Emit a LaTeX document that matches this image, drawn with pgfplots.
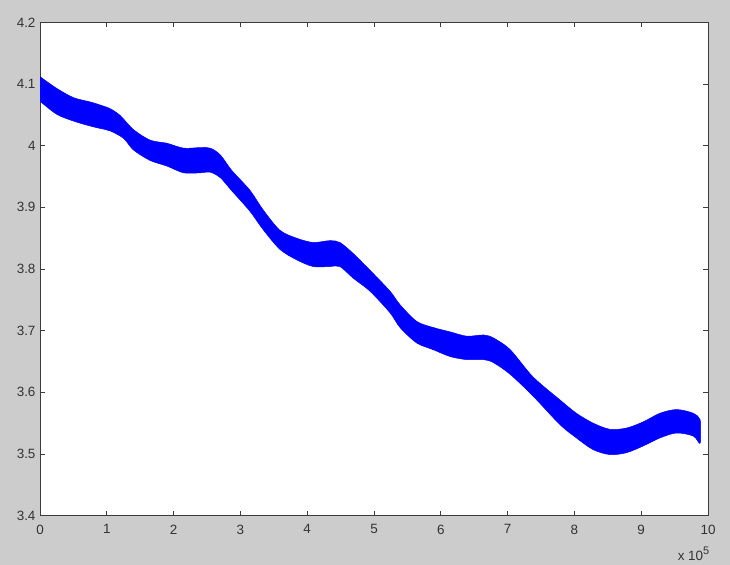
\documentclass[border=0pt]{standalone}
\usepackage{pgfplots}
\pgfplotsset{compat=1.18}
\usepackage{fontspec}
\setmainfont{Liberation Sans}
\definecolor{figbg}{RGB}{204,204,204}
\definecolor{axcol}{RGB}{60,60,60}
\begin{document}
\begin{tikzpicture}
\fill[figbg] (0,0) rectangle (730bp,565bp);
\begin{axis}[
  at={(40bp,49.4bp)}, anchor=south west,
  scale only axis, width=668bp, height=493.2bp,
  xmin=0, xmax=10, ymin=3.4, ymax=4.2,
  xtick={0,1,2,3,4,5,6,7,8,9,10},
  ytick={3.4,3.5,3.6,3.7,3.8,3.9,4.0,4.1,4.2},
  yticklabels={3.4,3.5,3.6,3.7,3.8,3.9,4,4.1,4.2},
  xticklabels={0,1,2,3,4,5,6,7,8,9,10},
  scaled ticks=false,
  tick align=inside, major tick length=5bp,
  axis background/.style={fill=white},
  axis line style={axcol, line width=0.8pt},
  every tick/.style={axcol, line width=0.8pt},
  tick label style={font=\fontsize{13.5}{15}\selectfont, text=black!80},
  xticklabel style={yshift=-5.5bp},
  yticklabel style={xshift=-1bp},
  /pgf/number format/assume math mode=true,
]
\addplot[fill=blue, draw=blue, line width=0.5pt, smooth] coordinates {
(-0.10,4.120) (0.00,4.112) (0.25,4.093) (0.50,4.078) (0.75,4.071) (0.90,4.066) (1.05,4.060)
(1.20,4.049) (1.40,4.026) (1.65,4.009) (1.90,4.004) (2.15,3.996) (2.40,3.997)
(2.55,3.996) (2.70,3.985) (2.87,3.960) (3.14,3.928) (3.34,3.896) (3.59,3.863)
(3.84,3.850) (4.09,3.843) (4.34,3.846) (4.49,3.843) (4.69,3.825) (4.94,3.798)
(5.24,3.764) (5.39,3.742) (5.64,3.715) (5.89,3.705) (6.14,3.698) (6.39,3.691)
(6.64,3.693) (6.79,3.688) (7.04,3.669) (7.38,3.625) (7.78,3.588) (8.03,3.566)
(8.28,3.550) (8.53,3.540) (8.78,3.542) (9.03,3.552) (9.28,3.566) (9.53,3.572)
(9.78,3.566) (9.88,3.556)
(9.89,3.536)
(9.88,3.517) (9.78,3.529) (9.53,3.534) (9.28,3.526) (9.03,3.513) (8.78,3.502)
(8.53,3.499) (8.28,3.507) (8.03,3.526) (7.78,3.548) (7.38,3.594) (7.04,3.629)
(6.79,3.648) (6.64,3.653) (6.39,3.653) (6.14,3.658) (5.89,3.669) (5.64,3.680)
(5.39,3.705) (5.24,3.729) (4.94,3.764) (4.69,3.785) (4.49,3.804) (4.34,3.804)
(4.09,3.804) (3.84,3.815) (3.59,3.832) (3.34,3.864) (3.14,3.894) (2.87,3.927)
(2.70,3.948) (2.55,3.957) (2.40,3.956) (2.15,3.956) (1.90,3.967) (1.65,3.976)
(1.40,3.993) (1.25,4.012) (1.05,4.024) (0.90,4.028) (0.75,4.032) (0.50,4.040)
(0.25,4.051) (0.00,4.072) (-0.10,4.080)
} -- cycle;
\end{axis}
\node[anchor=base east, font=\fontsize{13.5}{15}\selectfont, text=black!80, inner sep=0pt] at (710bp,5bp) {x 10\textsuperscript{\fontsize{11}{12}\selectfont 5}};
\end{tikzpicture}
\end{document}
